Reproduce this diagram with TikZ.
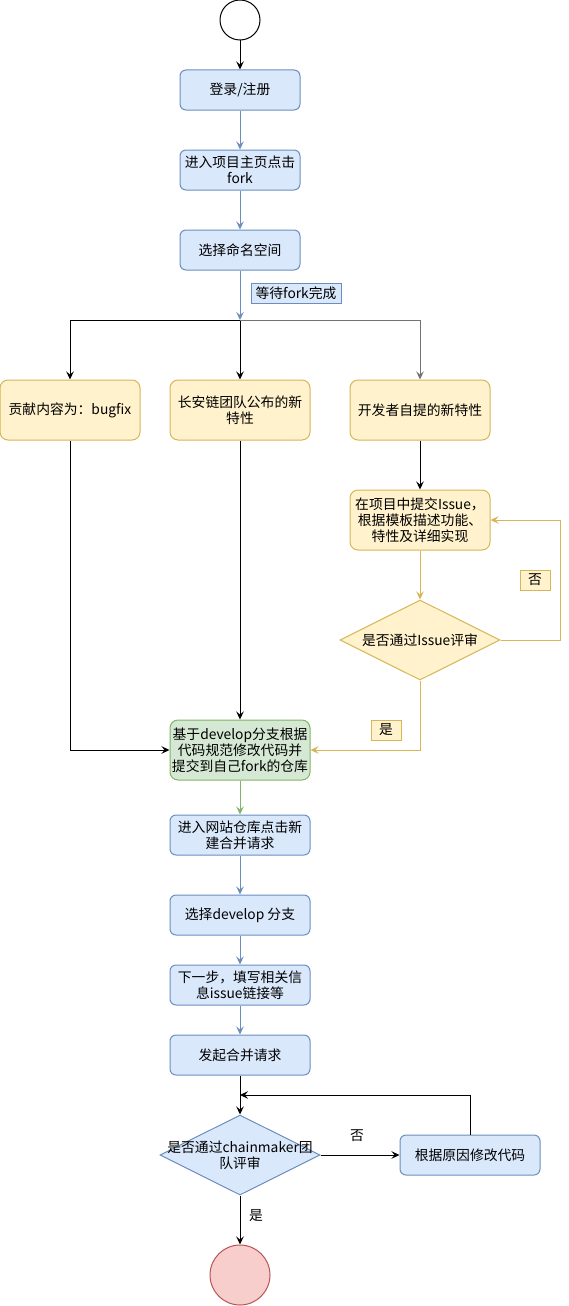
\documentclass[tikz,border=0pt]{standalone}
\usepackage{fontspec}
\newfontfamily\cjk{Noto Sans CJK SC}
\usetikzlibrary{shapes.geometric, arrows.meta, positioning}
\definecolor{bluefill}{HTML}{DAE8FC}
\definecolor{blueline}{HTML}{6C8EBF}
\definecolor{yelfill}{HTML}{FFF2CC}
\definecolor{yelline}{HTML}{D6B656}
\definecolor{grnfill}{HTML}{D5E8D4}
\definecolor{grnline}{HTML}{82B366}
\definecolor{redfill}{HTML}{F8CECC}
\definecolor{redline}{HTML}{B85450}

\begin{document}
\begin{tikzpicture}[x=1pt, y=-1pt, line width=1pt,
  font=\cjk\fontsize{13.8}{16}\selectfont,
  bbox/.style={draw=blueline, fill=bluefill, rounded corners=6pt, minimum width=120pt, minimum height=40pt, align=center, inner sep=1pt},
  wbox/.style={bbox, minimum width=140pt},
  ybox/.style={draw=yelline, fill=yelfill, rounded corners=8pt, minimum width=140pt, minimum height=60pt, align=center, inner sep=1pt},
  gbox/.style={ybox, draw=grnline, fill=grnfill},
  decision/.style={diamond, minimum width=160pt, minimum height=80pt, inner sep=0pt},
  tag/.style={inner sep=1pt, minimum height=20pt},
  arr/.style={-{Stealth[length=8pt,width=7.5pt,inset=3pt]}}
]
  \useasboundingbox (0,0) rectangle (569,1306);

  % fork stage
  \node[circle, draw, minimum size=40pt, inner sep=0pt] (start) at (240,20) {};
  \node[bbox] (login) at (240,90) {登录/注册};
  \node[bbox] (fork) at (240,170) {进入项目主页点击\\fork};
  \node[bbox] (ns) at (240,250) {选择命名空间};
  \node[tag, draw=blueline, fill=bluefill, minimum width=90pt] (waitlbl) at (296,293) {等待fork完成};
  \coordinate (split) at (240,320);

  % three kinds of contribution
  \node[ybox] (bugfix) at (70,410) {贡献内容为：bugfix};
  \node[ybox] (official) at (240,410) {长安链团队公布的新\\特性};
  \node[ybox] (own) at (420,410) {开发者自提的新特性};
  \node[ybox] (issue) at (420,520) {在项目中提交Issue，\\根据模板描述功能、\\特性及详细实现};
  \node[decision, draw=yelline, fill=yelfill] (review) at (420,640) {};
  \node (reviewtxt) at (review) {是否通过Issue评审};
  \node[tag, draw=yelline, fill=yelfill, minimum width=30pt] (nolbl) at (535,580) {否};
  \node[tag, draw=yelline, fill=yelfill, minimum width=30pt] (yeslbl) at (386,730) {是};

  % merge request
  \node[gbox] (code) at (240,750) {基于develop分支根据\\代码规范修改代码并\\提交到自己fork的仓库};
  \node[wbox] (mr) at (240,835) {进入网站仓库点击新\\建合并请求};
  \node[wbox] (branch) at (240,915) {选择develop 分支};
  \node[wbox] (info) at (240,985) {下一步，填写相关信\\息issue链接等};
  \node[wbox] (submit) at (240,1055) {发起合并请求};
  \coordinate (merge) at (240,1095);
  \node[decision, draw=blueline, fill=bluefill] (team) at (240,1155) {};
  \node[align=center] (teamtxt) at (team) {是否通过chainmaker团\\队评审};
  \node[wbox] (fixcode) at (470,1155) {根据原因修改代码};
  \node (nolbl2) at (357,1136) {否};
  \node (yeslbl2) at (256,1216) {是};
  \node[circle, draw=redline, fill=redfill, minimum size=60pt, inner sep=0pt] (stop) at (240,1275) {};

  % connectors
  \draw[arr] (start) -- (login);
  \draw[arr, blueline] (login) -- (fork);
  \draw[arr, blueline] (fork) -- (ns);
  \draw[arr, blueline] (ns) -- (split);
  \draw[arr] (split) -| (bugfix.north);
  \draw[arr] (split) -- (official);
  \draw[arr, black!55] (split) -| (own.north);
  \draw[arr] (own) -- (issue);
  \draw[arr, yelline] (issue) -- (review);
  \draw[arr, yelline] (review.east) -- ++(60,0) |- (issue.east);
  \draw[arr, yelline] (review.south) |- (code.east);
  \draw[arr] (bugfix.south) |- (code.west);
  \draw[arr] (official) -- (code);
  \draw[arr, grnline] (code) -- (mr);
  \draw[arr, blueline] (mr) -- (branch);
  \draw[arr, blueline] (branch) -- (info);
  \draw[arr, blueline] (info) -- (submit);
  \draw[arr] (submit) -- (team);
  \draw[arr] (team.east) -- (fixcode);
  \draw[arr] (fixcode.north) |- (merge);
  \draw[arr] (team.south) -- (stop);
\end{tikzpicture}
\end{document}
